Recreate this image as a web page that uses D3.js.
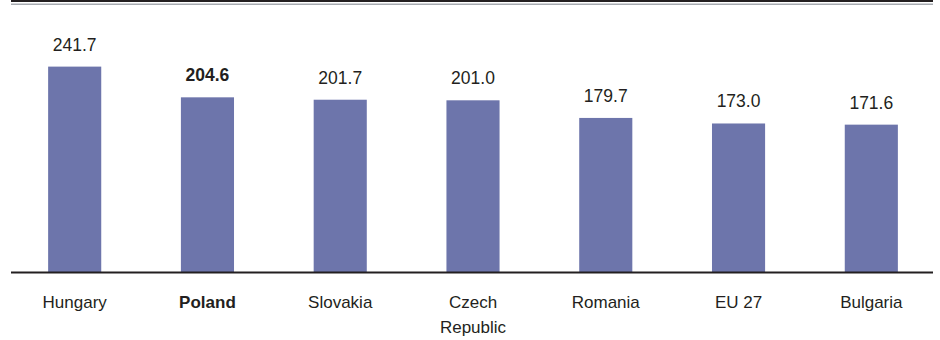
<!DOCTYPE html>
<html>
<head>
<meta charset="utf-8">
<script src="https://cdn.jsdelivr.net/npm/d3@7"></script>
<style>
  html, body { margin: 0; padding: 0; background: #ffffff; }
  svg { display: block; }
  text { font-family: "Liberation Sans", Arial, Helvetica, sans-serif; fill: #231f20; }
</style>
</head>
<body>
<svg id="chart" width="940" height="340"></svg>
<script>
// Countries (highlighted entry is drawn in bold)
const categories = ["Hungary", "Poland", "Slovakia", "Czech\nRepublic", "Romania", "EU 27", "Bulgaria"];
const values = [241.7, 204.6, 201.7, 201.0, 179.7, 173.0, 171.6];
const valueLabels = ["241.7", "204.6", "201.7", "201.0", "179.7", "173.0", "171.6"];
const highlighted = ["Poland"];

const svg = d3.select("#chart");
const baseY = 272.5;

const x = d3.scaleBand()
  .domain(categories)
  .range([8.3, 937.7])
  .paddingInner(0.6)
  .paddingOuter(0.3);

const y = d3.scaleLinear()
  .domain([-7, 298])
  .range([baseY, 20]);

// double rule across the top
svg.append("line")
  .attr("x1", 11).attr("x2", 933)
  .attr("y1", 1).attr("y2", 1)
  .attr("stroke", "#231f20").attr("stroke-width", 2);
svg.append("line")
  .attr("x1", 11).attr("x2", 933)
  .attr("y1", 4.3).attr("y2", 4.3)
  .attr("stroke", "#a7abb1").attr("stroke-width", 1.5);

// bars
svg.append("g").selectAll("rect")
  .data(values)
  .join("rect")
  .attr("x", (d, i) => x(categories[i]))
  .attr("width", x.bandwidth())
  .attr("y", d => y(d))
  .attr("height", d => y(-7) - y(d))
  .attr("fill", "#6d75ab");

// value labels
svg.append("g").selectAll("text")
  .data(values)
  .join("text")
  .attr("x", (d, i) => x(categories[i]) + x.bandwidth() / 2)
  .attr("y", d => y(d) - 16)
  .attr("text-anchor", "middle")
  .attr("font-size", 17.5)
  .attr("font-weight", (d, i) => highlighted.includes(categories[i]) ? "bold" : "normal")
  .text((d, i) => valueLabels[i]);

// baseline
svg.append("line")
  .attr("x1", 11).attr("x2", 933)
  .attr("y1", baseY).attr("y2", baseY)
  .attr("stroke", "#231f20").attr("stroke-width", 2);

// category labels (multi-line where needed)
const cat = svg.append("g").selectAll("text")
  .data(categories)
  .join("text")
  .attr("x", d => x(d) + x.bandwidth() / 2)
  .attr("y", 308)
  .attr("text-anchor", "middle")
  .attr("font-size", 17)
  .attr("font-weight", d => highlighted.includes(d) ? "bold" : "normal");

cat.each(function(d) {
  const t = d3.select(this);
  d.split("\n").forEach((ln, k) => {
    t.append("tspan")
      .attr("x", x(d) + x.bandwidth() / 2)
      .attr("dy", k === 0 ? 0 : 25)
      .text(ln);
  });
});
</script>
</body>
</html>
